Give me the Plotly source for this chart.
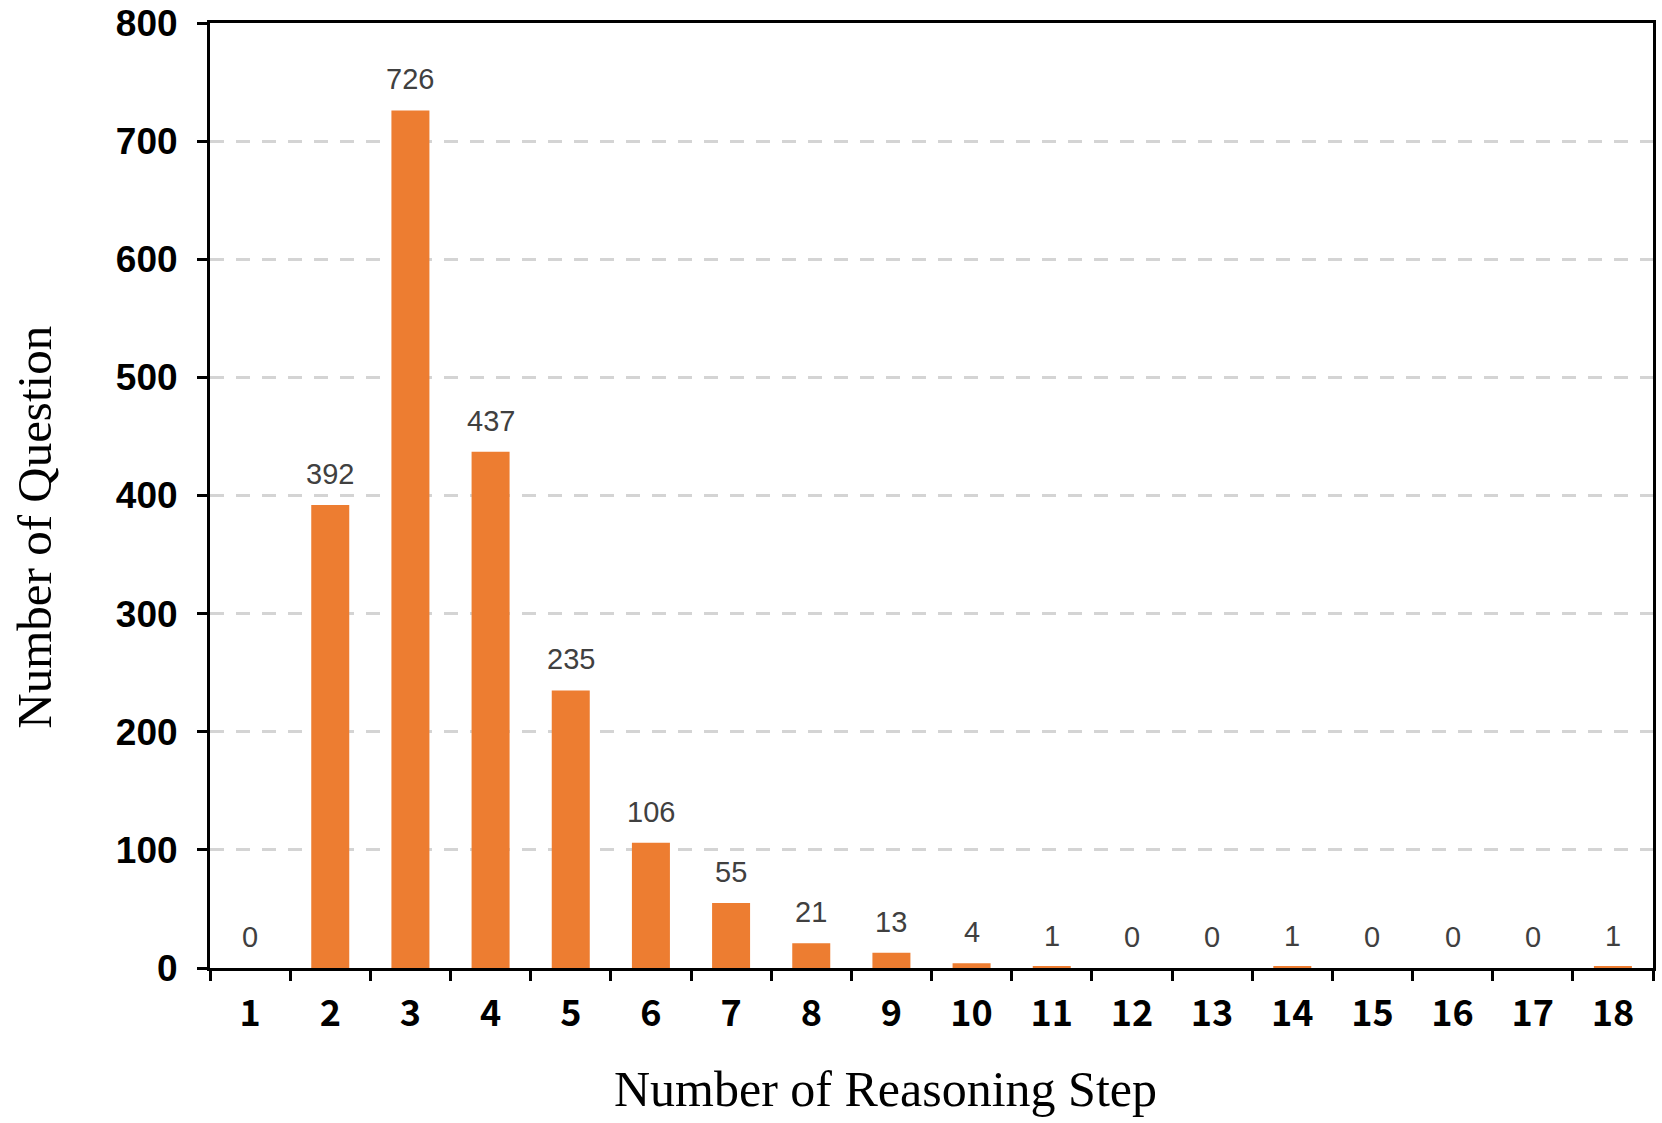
import plotly.graph_objects as go

steps = [str(i) for i in range(1, 19)]
counts = [0, 392, 726, 437, 235, 106, 55, 21, 13, 4, 1, 0, 0, 1, 0, 0, 0, 1]
y_ticks = [0, 100, 200, 300, 400, 500, 600, 700, 800]

BAR_COLOR = "#ED7D31"

fig = go.Figure()
fig.add_trace(go.Bar(
    x=steps, y=counts,
    marker=dict(color=BAR_COLOR, line=dict(width=0)),
    hoverinfo="x+y",
))

annotations = []
for idx, c in enumerate(counts):
    annotations.append(dict(
        x=idx, y=c, xref="x", yref="y", text=str(c), showarrow=False,
        yanchor="bottom", yshift=13,
        font=dict(family="Liberation Sans, Arial, sans-serif", size=29, color="#404040"),
    ))

annotations.append(dict(
    x=0.468, y=-0.128, xref="paper", yref="paper", text="Number of Reasoning Step",
    showarrow=False, xanchor="center", yanchor="middle",
    font=dict(family="Liberation Serif, Times New Roman, serif", size=50, color="#000000"),
))
annotations.append(dict(
    x=-0.1215, y=0.4667, xref="paper", yref="paper", text="Number of Question",
    showarrow=False, xanchor="center", yanchor="middle", textangle=-90,
    font=dict(family="Liberation Serif, Times New Roman, serif", size=49, color="#000000"),
))

fig.update_layout(
    width=1662, height=1123,
    margin=dict(l=210, r=9, t=23, b=155, autoexpand=False),
    paper_bgcolor="white", plot_bgcolor="white",
    bargap=0.526,
    showlegend=False,
    annotations=annotations,
)

fig.update_xaxes(
    type="category", range=[-0.5, len(steps) - 0.5],
    showline=True, linecolor="black", linewidth=3, mirror=True,
    ticks="outside", tickson="boundaries", ticklen=10, tickwidth=3, tickcolor="black",
    tickfont=dict(family="Noto Sans CJK JP, Liberation Sans, sans-serif", size=36, color="black", weight="bold"),
    ticklabelstandoff=12, ticklabeloverflow="allow",
    showgrid=False, zeroline=False,
)

fig.update_yaxes(
    range=[0, 800], tickvals=y_ticks, ticktext=[str(v) for v in y_ticks],
    showline=True, linecolor="black", linewidth=3, mirror=True,
    ticks="outside", ticklen=10, tickwidth=3, tickcolor="black",
    tickfont=dict(family="Liberation Sans, Arial, sans-serif", size=37, color="black", weight="bold"),
    ticklabelstandoff=12, ticklabeloverflow="allow",
    showgrid=True, gridcolor="#D4D4D4", gridwidth=3, griddash="14px,12px",
    zeroline=False,
)

fig.write_html(
    "out.html",
    config={"displayModeBar": False},
    post_script="document.body.style.margin='0';document.body.style.overflow='hidden';",
)
